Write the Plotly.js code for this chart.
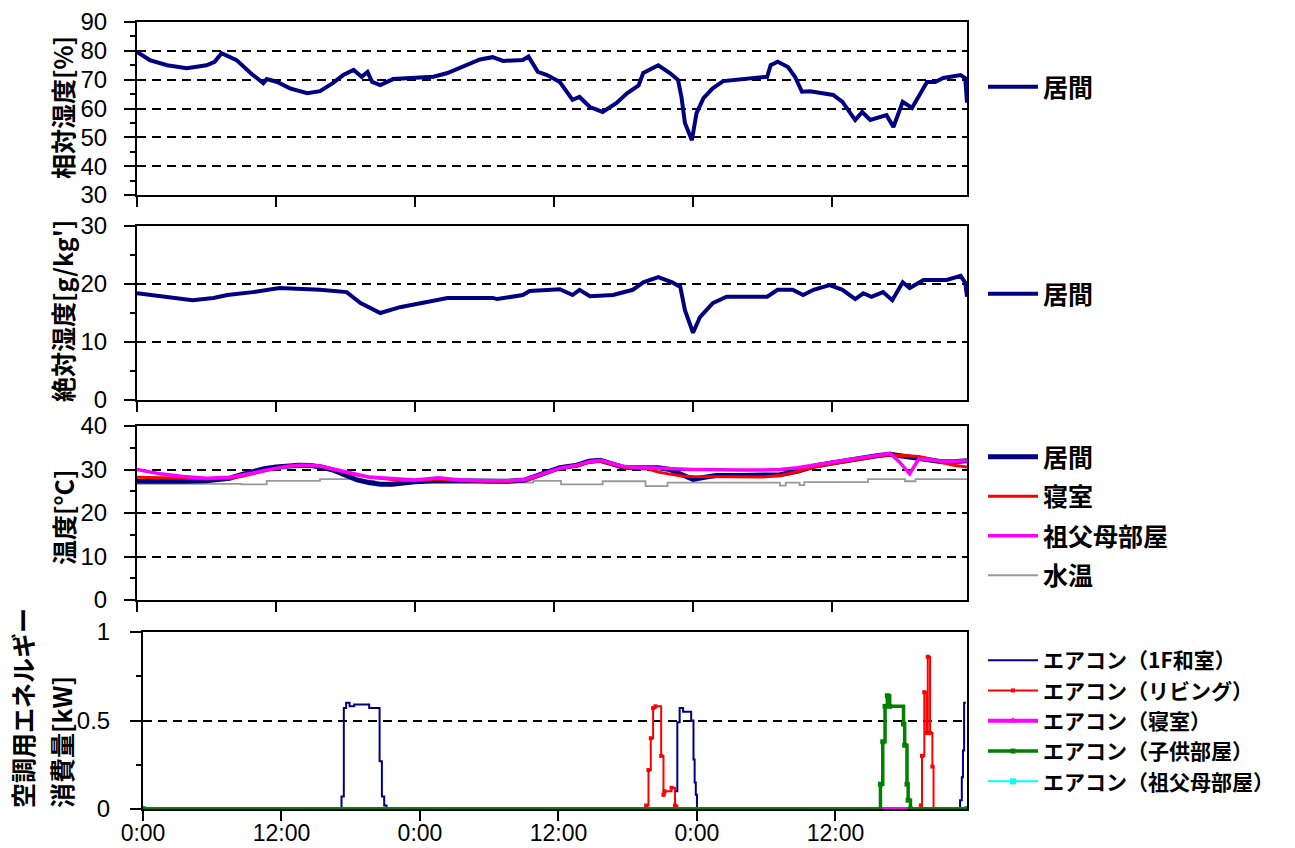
<!DOCTYPE html>
<html><head><meta charset="utf-8">
<script src="https://cdn.plot.ly/plotly-3.0.1.min.js"></script>
<style>html,body{margin:0;padding:0;background:#fff}#chart{width:1295px;height:848px}</style>
</head><body><div id="chart"></div>
<script>
// ---- data (hours from start, 0:00 of day 1) ----
const tickHours = [0, 12, 24, 36, 48, 60];
const tickLabels = ['0:00', '12:00', '0:00', '12:00', '0:00', '12:00'];

// 相対湿度 [%] 居間
const rhHours = [0,1.1,2.6,4.3,6,6.7,7.3,8,8.6,9.8,10.4,10.9,11.2,12.1,13.2,14.7,15.8,16.9,17.8,18.7,19.4,19.9,20.3,21,22.1,24.2,25.6,26.8,28.5,29.6,30.7,31.6,33.3,33.8,34.6,35.4,36.5,37.6,38.2,39.1,40.2,41.4,42.3,43.3,43.7,45,46,46.7,47,47.3,47.9,48.3,48.9,49.7,50.6,52.7,54.4,54.7,55.3,56.2,56.8,57.4,58.1,60.1,60.9,62,62.6,63.3,64.7,65.3,66.1,66.9,68.2,68.9,69.6,71.1,71.5,71.65];
const rhLiving = [79.6,76.8,75,74,75,76.2,79.2,77.8,76.8,72.3,70.6,68.8,70.2,69.2,67,65.3,66,68.8,71.6,73.4,71,72.7,69.2,68.1,70.2,70.6,71,72.3,75,77,77.8,76.5,76.8,78,72.7,71.6,69.2,63,64,60.5,58.8,61.9,65.3,68,72.3,75,72.3,69.9,64,55,49,58.4,63.6,67,69.5,70.2,71,75,76.2,74.4,71,65.8,66,64.7,62.3,56,58.8,56,57.7,53.6,62.3,60.2,69.2,69.2,70.6,71.6,70.5,62];

// 絶対湿度 [g/kg'] 居間
const ahHours = [0,2.6,4.8,6.6,7.8,10,12.3,15.8,18.1,19.3,21,22.7,25,26.8,30.7,31.1,33.3,33.9,36.5,37.6,38.2,39.1,41.1,42.8,43.7,45,46.2,46.9,47.3,48,48.6,49.7,50.9,54.4,55.3,56.6,57.5,58.4,59.8,60.9,62,62.7,63.4,64.4,65.2,66.1,66.7,67.9,69.9,71.1,71.5,71.65];
const ahLiving = [18.4,17.8,17.2,17.6,18.1,18.6,19.3,19,18.6,16.7,15,16,16.9,17.6,17.6,17.4,18.1,18.8,19.1,18.1,19,17.9,18.1,19,20.3,21.2,20.3,19.5,15.5,11.6,14.3,16.7,17.8,17.8,19,19,18.1,19,19.8,19,17.4,18.4,17.8,18.6,17.2,20.3,19.3,20.7,20.7,21.4,20.2,17.8];

// 温度 [°C]
const tempHours = [0,2,4,6,8,9,10,11,12,13,14,15,16,17,18,19,20,21,22,23,24,26,28,30,32,33.5,34.5,35.5,36.5,38,39,40,41,42,43,44,45,46,47,48,49,50,52,54,55.5,57,58.5,60,61.5,63,64,65,65.8,66.7,67.5,68.5,69.5,70.5,71.65];
const tempLiving = [27.3,27.2,27.3,27.4,28.0,28.8,29.6,30.2,30.6,30.9,31.0,30.9,30.5,29.8,28.6,27.6,27.0,26.6,26.6,26.9,27.2,27.4,27.3,27.3,27.3,27.6,28.5,29.6,30.4,31.0,31.9,32.1,31.2,30.5,30.4,30.4,30.4,30.0,28.8,27.7,28.2,28.6,28.6,28.6,28.8,29.6,30.8,31.5,32.2,32.8,33.2,33.5,33.2,32.8,32.4,32.0,31.8,31.8,32.0];
const tempBedroom = [28.2,28.1,28.0,27.9,28.0,28.4,29.0,29.7,30.3,30.8,31.0,31.0,30.7,30.0,29.3,28.7,28.3,28.0,27.6,27.4,27.5,27.8,27.4,27.3,27.3,27.5,28.3,29.4,30.2,30.8,31.6,31.9,31.2,30.5,30.3,30.2,29.4,28.9,28.5,28.4,28.4,28.3,28.3,28.3,28.6,29.5,30.6,31.3,32.1,32.7,33.1,33.4,33.3,33.1,33.0,32.4,31.6,31.0,30.6];
const tempGrandparents = [30.0,29.0,28.4,28.0,28.2,28.6,29.2,29.8,30.3,30.7,31.0,31.0,30.7,30.1,29.4,28.7,28.3,28.1,27.9,27.7,27.6,28.1,27.6,27.4,27.4,27.7,28.6,29.6,30.3,31.0,31.8,32.1,31.4,30.7,30.5,30.4,30.3,30.1,30.0,30.0,30.0,29.9,29.9,29.9,30.0,30.4,31.1,31.6,32.3,32.9,33.4,33.7,31.8,29.0,32.5,32.3,31.9,31.9,32.0];
const waterHours = [0,9,11.2,15.8,19,20.5,22.5,30,34.2,36.6,40.2,43.9,45.8,55.5,56,57.2,57.6,63.1,66.3,67.2,71.65];
const waterTemp = [26.7,26.6,27.4,27.8,27.4,26.7,27.1,27.0,27.4,26.6,27.3,26.2,27.0,26.3,27.0,26.4,27.1,27.8,27.3,27.8,27.8];

// 空調用エネルギー消費量 [kW]
const ac1FHours = [0,17.2,17.4,17.6,17.9,18.3,19.6,20.5,20.7,20.9,21.1,46.1,46.3,46.5,46.8,47.5,47.7,47.8,47.9,48.0,70.8,70.95,71.05,71.15,71.3];
const ac1F = [0,0.07,0.57,0.6,0.58,0.59,0.57,0.27,0.07,0.02,0,0.1,0.49,0.57,0.55,0.5,0.28,0.15,0.08,0,0.05,0.18,0.33,0.6,0.6];
const acLivingHours = [0,43.6,43.8,44.0,44.2,44.4,44.9,45.1,45.2,45.8,46.1,46.3,67.4,67.5,67.7,67.9,68.0,68.2,68.4,68.5,71.4];
const acLiving = [0,0.02,0.22,0.4,0.57,0.58,0.3,0.08,0.1,0.12,0.02,0,0.02,0.3,0.66,0.43,0.86,0.43,0.24,0,0];
const acBedroomHours = [0,71.4];
const acBedroom = [0,0];
const acChildHours = [0,63.9,64.1,64.3,64.5,64.7,65.9,66.0,66.2,66.3,66.5,71.4];
const acChild = [0,0.14,0.38,0.58,0.64,0.58,0.48,0.36,0.14,0.05,0,0];
const acGrandHours = [0,71.4];
const acGrand = [0,0];

// ---- layout helpers ----
const W = 1295, H = 848;
const px = v => v / W;
const py = v => 1 - v / H;
const tickFont = {family: '"Liberation Sans", Arial, sans-serif', size: 24, color: '#000'};
const xTickFont = {family: '"Liberation Sans", Arial, sans-serif', size: 23, color: '#000'};
const jpFont = {family: '"Noto Sans CJK JP", sans-serif', size: 25, color: '#000', weight: 'bold'};
const jpLegend4 = {family: '"Noto Sans CJK JP", sans-serif', size: 21, color: '#000', weight: 'bold'};

function yax(top, bottom, range, dtick, minorDtick, standoff) {
  return {
    domain: [py(bottom), py(top)], range: range, tickmode: 'linear', tick0: range[0], dtick: dtick,
    ticks: 'outside', ticklen: 11, tickwidth: 2, tickcolor: '#000',
    minor: {ticks: 'outside', ticklen: 5, tickwidth: 2, tickcolor: '#000', dtick: minorDtick, tick0: range[0], showgrid: false},
    showline: true, linecolor: '#000', linewidth: 2, mirror: true,
    showgrid: true, gridcolor: '#000', gridwidth: 1.6, griddash: '9px,6px',
    zeroline: false, tickfont: tickFont, ticklabelstandoff: standoff,
    automargin: false, fixedrange: true
  };
}
function xax(left, right, range, anchor, labels) {
  return {
    domain: [px(left), px(right)], range: range, anchor: anchor,
    tickmode: 'array', tickvals: tickHours, ticktext: tickLabels, showticklabels: labels,
    ticks: 'outside', ticklen: 10, tickwidth: 2, tickcolor: '#000',
    showline: true, linecolor: '#000', linewidth: 2, mirror: true,
    showgrid: false, zeroline: false, tickfont: xTickFont, ticklabelstandoff: -8,
    automargin: false, fixedrange: true
  };
}
function legendBox(yPix, anchor, font, gap) {
  return {x: px(983), y: py(yPix), xanchor: 'left', yanchor: anchor, font: font,
    bgcolor: 'rgba(0,0,0,0)', borderwidth: 0, itemwidth: 50, tracegroupgap: gap || 0,
    itemclick: false, itemdoubleclick: false};
}
function yTitle(text, xPix, yPix, anchor) {
  return {text: text, textangle: -90, xref: 'paper', yref: 'paper', x: px(xPix), y: py(yPix),
    xanchor: 'center', yanchor: anchor, showarrow: false, font: jpFont};
}

const traces = [
  {x: rhHours, y: rhLiving, xaxis: 'x', yaxis: 'y', name: '居間', mode: 'lines',
   line: {color: '#000080', width: 4}, legend: 'legend'},
  {x: ahHours, y: ahLiving, xaxis: 'x2', yaxis: 'y2', name: '居間', mode: 'lines',
   line: {color: '#000080', width: 4}, legend: 'legend2'},
  {x: waterHours, y: waterTemp, xaxis: 'x3', yaxis: 'y3', name: '水温', mode: 'lines',
   line: {color: '#999999', width: 1.8, shape: 'hv'}, legend: 'legend3', legendgroup: 'w', legendrank: 4},
  {x: tempHours, y: tempLiving, xaxis: 'x3', yaxis: 'y3', name: '居間', mode: 'lines',
   line: {color: '#000080', width: 5}, legend: 'legend3', legendgroup: 'l', legendrank: 1},
  {x: tempHours, y: tempBedroom, xaxis: 'x3', yaxis: 'y3', name: '寝室', mode: 'lines',
   line: {color: '#ff0000', width: 3}, legend: 'legend3', legendgroup: 'b', legendrank: 2},
  {x: tempHours, y: tempGrandparents, xaxis: 'x3', yaxis: 'y3', name: '祖父母部屋', mode: 'lines',
   line: {color: '#ff00ff', width: 3.5}, legend: 'legend3', legendgroup: 'g', legendrank: 3},
  {x: acGrandHours, y: acGrand, xaxis: 'x4', yaxis: 'y4', name: 'エアコン（祖父母部屋）', mode: 'lines+markers',
   line: {color: '#00ffff', width: 2}, marker: {symbol: 'square', size: 6, color: '#00ffff'}, legend: 'legend4', legendrank: 5},
  {x: ac1FHours, y: ac1F, xaxis: 'x4', yaxis: 'y4', name: 'エアコン（1F和室）', mode: 'lines',
   line: {color: '#000080', width: 2, shape: 'hv'}, legend: 'legend4', legendrank: 1},
  {x: acLivingHours, y: acLiving, xaxis: 'x4', yaxis: 'y4', name: 'エアコン（リビング）', mode: 'lines+markers',
   line: {color: '#ff0000', width: 2, shape: 'hv'}, marker: {symbol: 'square', size: 4, color: '#ff0000'}, legend: 'legend4', legendrank: 2},
  {x: acBedroomHours, y: acBedroom, xaxis: 'x4', yaxis: 'y4', name: 'エアコン（寝室）', mode: 'lines+markers',
   line: {color: '#ff00ff', width: 4}, marker: {symbol: 'triangle-up', size: 7, color: '#ff00ff'}, legend: 'legend4', legendrank: 3},
  {x: acChildHours, y: acChild, xaxis: 'x4', yaxis: 'y4', name: 'エアコン（子供部屋）', mode: 'lines+markers',
   line: {color: '#008000', width: 3.5, shape: 'hv'}, marker: {symbol: 'square', size: 5, color: '#008000'}, legend: 'legend4', legendrank: 4}
];

const layout = {
  width: W, height: H, margin: {l: 0, r: 0, t: 0, b: 0},
  paper_bgcolor: '#fff', plot_bgcolor: '#fff', showlegend: true,
  xaxis: xax(137, 967, [0, 71.65], 'y', false),
  xaxis2: xax(137, 967, [0, 71.65], 'y2', false),
  xaxis3: xax(137, 967, [0, 71.65], 'y3', false),
  xaxis4: Object.assign(xax(143, 967, [0, 71.4], 'y4', true), {layer: 'below traces'}),
  yaxis: Object.assign(yax(22, 195, [30, 90], 10, 5, 12), {anchor: 'x'}),
  yaxis2: Object.assign(yax(226, 400, [0, 30], 10, 5, 12), {anchor: 'x2'}),
  yaxis3: Object.assign(yax(426, 600, [0, 40], 10, 5, 12), {anchor: 'x3'}),
  yaxis4: Object.assign(yax(632, 809, [0, 1], 0.5, 0.25, 15), {anchor: 'x4'}),
  legend: legendBox(87, 'middle', jpFont),
  legend2: legendBox(294, 'middle', jpFont),
  legend3: Object.assign(legendBox(434, 'top', jpFont, 4), {traceorder: 'grouped'}),
  legend4: Object.assign(legendBox(640, 'top', jpLegend4), {traceorder: 'normal'}),
  annotations: [
    yTitle('相対湿度[%]', 62, 108, 'middle'),
    yTitle("絶対湿度[g/kg']", 62, 311, 'middle'),
    yTitle('温度[°C]', 63, 518, 'middle'),
    yTitle('空調用エネルギー', 22, 810, 'bottom'),
    yTitle('消費量[kW]', 61, 810, 'bottom')
  ]
};

Plotly.newPlot('chart', traces, layout, {displayModeBar: false, responsive: false});
</script>
</body></html>
